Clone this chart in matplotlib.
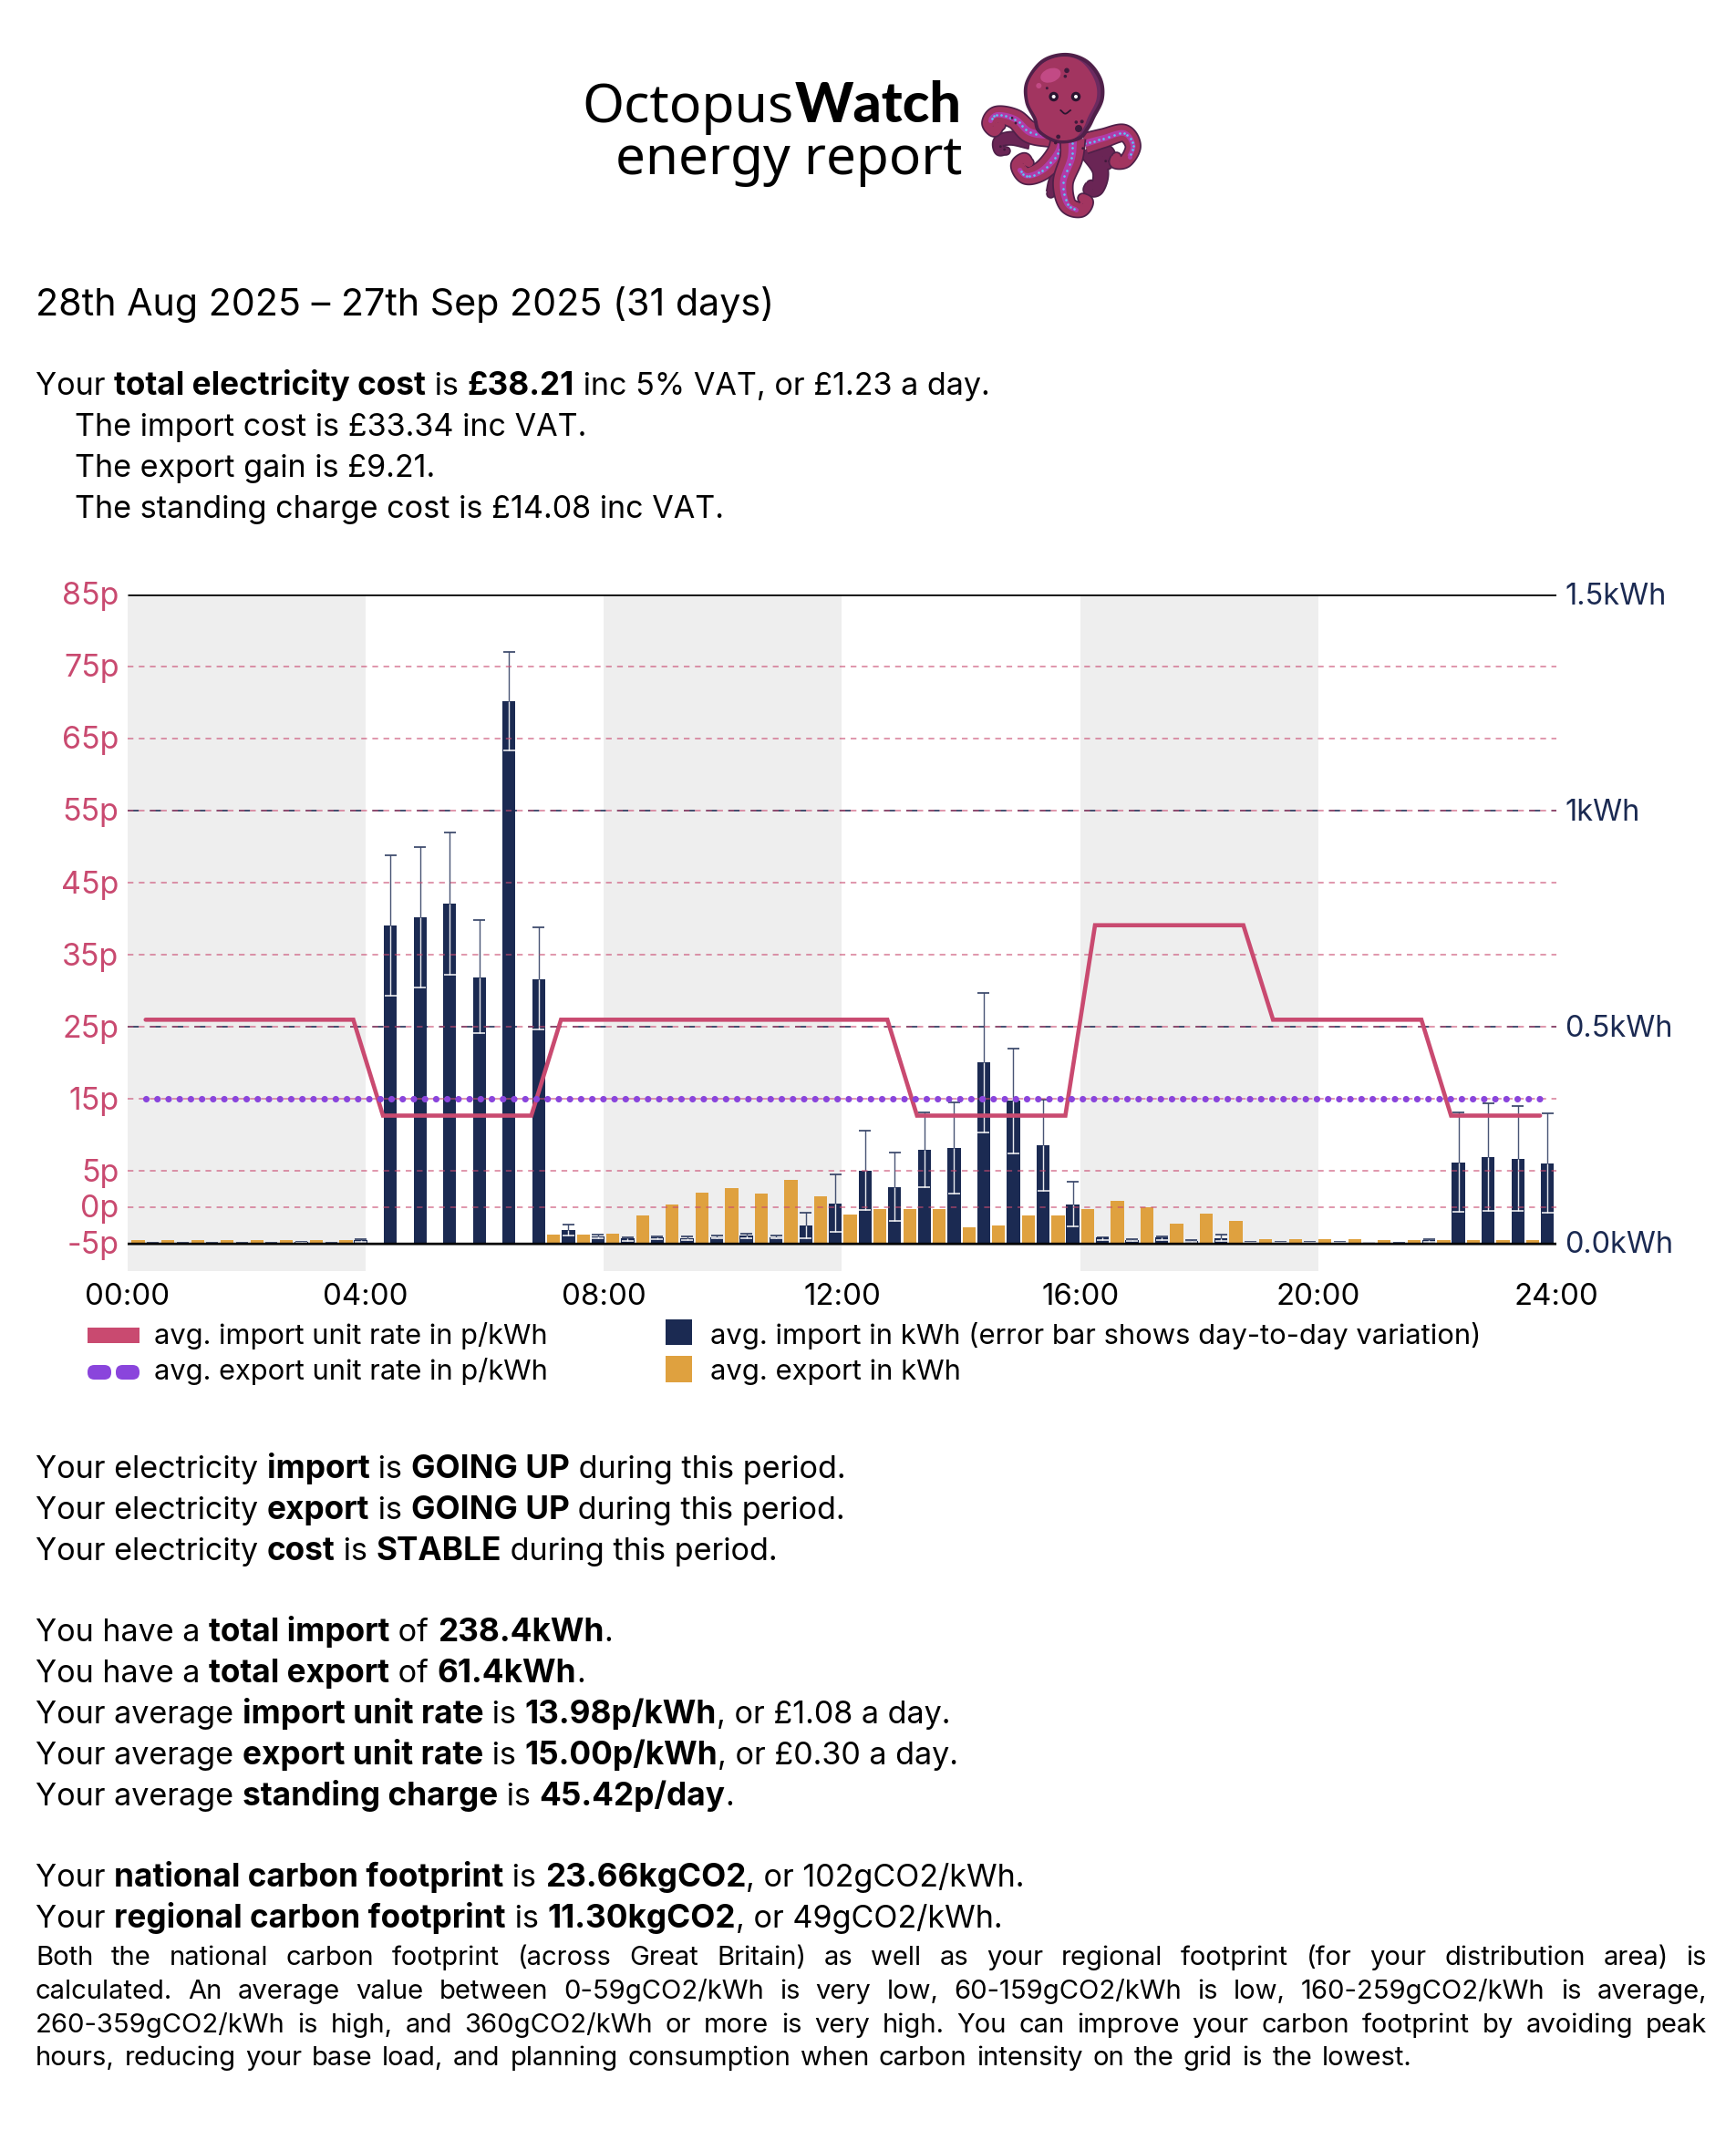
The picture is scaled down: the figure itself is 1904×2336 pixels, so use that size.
import numpy as np
import matplotlib
matplotlib.use("Agg")
import matplotlib.pyplot as plt
from matplotlib.patches import Ellipse, Polygon, Rectangle, FancyBboxPatch

plt.rcParams["lines.scale_dashes"] = False

# ---------------- data ----------------
import_kwh = [.001,.001,.001,.001,.001,.003,.001,.008,.735,.753,.784,.615,1.253,.611,.030,.016,
              .011,.013,.011,.014,.018,.014,.041,.092,.168,.130,.215,.220,.418,.329,.226,.089,
              .013,.008,.013,.006,.011,.002,.002,.002,.002,.001,.001,.008,.187,.199,.195,.185]
import_hi = [.001,.001,.001,.001,.002,.004,.002,.009,.897,.916,.949,.746,1.367,.731,.044,.019,
             .013,.015,.015,.018,.022,.018,.070,.159,.261,.209,.302,.326,.579,.450,.332,.142,
             .014,.010,.015,.008,.020,.004,.003,.003,.003,.002,.001,.009,.303,.324,.318,.301]
import_lo = [.000,.000,.000,.000,.000,.001,.000,.003,.573,.591,.621,.486,1.139,.494,.018,.012,
             .006,.009,.008,.011,.011,.011,.011,.027,.077,.051,.129,.114,.256,.207,.121,.039,
             .008,.005,.008,.004,.006,.001,.001,.001,.001,.001,.000,.004,.073,.075,.074,.070]
export_kwh = [.008,.008,.008,.008,.008,.008,.008,.008,0,0,0,0,0,0,.021,.020,
              .023,.065,.090,.116,.128,.115,.146,.109,.066,.079,.079,.078,.036,.042,.064,.065,
              .080,.098,.084,.046,.069,.051,.009,.009,.009,.009,.008,.008,.007,.007,.007,.007]
import_rate = [26]*8 + [12.7]*6 + [26]*12 + [12.7]*6 + [39.1]*6 + [26]*6 + [12.7]*4
export_rate = [15.0]*48
pence_ticks = [85,75,65,55,45,35,25,15,5,0,-5]
kwh_ticks = [1.5,1.0,0.5,0.0]
kwh_labels = ["1.5kWh","1kWh","0.5kWh","0.0kWh"]
hour_ticks = [0,4,8,12,16,20,24]
hour_labels = ["00:00","04:00","08:00","12:00","16:00","20:00","24:00"]
shaded_hours = [(0,4),(8,12),(16,20)]
legend_left = ["avg. import unit rate in p/kWh","avg. export unit rate in p/kWh"]
legend_right = ["avg. import in kWh (error bar shows day-to-day variation)","avg. export in kWh"]

NAVY="#1b2a52"; ORANGE="#dfa13f"; RED="#c94a70"; PURPLE="#8a45dc"; GREY="#eeeeee"
FONT="Inter"
W,H=1904,2336
PX=0.72

fig=plt.figure(figsize=(W/100,H/100),dpi=100,facecolor="white")
ov=fig.add_axes([0,0,1,1],zorder=5); ov.set_xlim(0,W); ov.set_ylim(H,0); ov.axis("off"); ov.patch.set_alpha(0)

L,R,T,B=140,1707,651.7,1394
Y0=1363.5
KPX=(Y0-T)/1.5
PPX=KPX/60
HPX=(R-L)/24
axk=fig.add_axes([L/W,1-B/H,(R-L)/W,(B-T)/H],zorder=1)
axp=fig.add_axes([L/W,1-B/H,(R-L)/W,(B-T)/H],zorder=2); axp.patch.set_alpha(0)
kmin=-(B-Y0)/KPX
axk.set_ylim(kmin,1.5); axk.set_xlim(0,24)
axp.set_ylim(-5+kmin*60,85); axp.set_xlim(0,24)
for a in (axk,axp):
    for s in a.spines.values(): s.set_visible(False)
    a.tick_params(length=0)
axk.set_xticks([]); axk.set_yticks([]); axp.set_yticks([]); axp.set_xticks([])

for s,e in shaded_hours:
    axk.axvspan(s,e,color=GREY,lw=0,zorder=0)

n=len(import_kwh)
idx=np.arange(n)
step=32.54/HPX
x_group=0.302+idx*step
x_exp=x_group-0.124
x_imp=x_group+0.124
bw=14.3/HPX
for k in (1.0,0.5):
    axk.axhline(k,color=NAVY,lw=1.6*PX,dashes=(12.2*PX,12.2*PX),zorder=1)
axk.bar(x_imp,import_kwh,width=bw,color=NAVY,zorder=2)
axk.bar(x_exp,export_kwh,width=bw,color=ORANGE,zorder=2)
imp=np.array(import_kwh); hi=np.array(import_hi); lo=np.array(import_lo)
cap=6.5/HPX
axk.vlines(x_imp,imp,hi,color=NAVY,lw=1.4*PX,alpha=.8,zorder=3)
axk.hlines(hi,x_imp-cap,x_imp+cap,color=NAVY,lw=1.5*PX,zorder=3)
axk.vlines(x_imp,lo,imp,color="white",lw=1.4*PX,alpha=.9,zorder=3)
axk.hlines(lo,x_imp-cap,x_imp+cap,color="white",lw=1.5*PX,zorder=3)

for p in pence_ticks[1:-1]:
    axp.axhline(p,color=RED,lw=1.5*PX,dashes=(6.3*PX,5.9*PX),alpha=.75,zorder=1)
axp.plot([0,24],[85,85],color="black",lw=2.6*PX,zorder=2,solid_capstyle="butt")
axp.plot([0,24],[-5.2,-5.2],color="#8a8a8a",lw=1.8*PX,zorder=5,solid_capstyle="butt")
axp.plot([0,24],[-5,-5],color="black",lw=2.4*PX,zorder=6,solid_capstyle="butt")
axp.plot(x_group,import_rate,color=RED,lw=4.6*PX,solid_joinstyle="miter",solid_capstyle="round",zorder=4)
axp.plot(x_group,export_rate,color=PURPLE,lw=7.2*PX,dashes=(0.02,12.2*PX),dash_capstyle="round",zorder=5)

for p in pence_ticks:
    ov.text(130.5,Y0-(p+5)*PPX-1,f"{p}p",ha="right",va="center_baseline",fontsize=34*PX,color=RED,family=FONT)
for k,l in zip(kwh_ticks,kwh_labels):
    ov.text(1716,Y0-k*KPX-1,l,ha="left",va="center_baseline",fontsize=32.5*PX,color=NAVY,family=FONT)
for h,l in zip(hour_ticks,hour_labels):
    ov.text(L+h*HPX,1431,l,ha="center",va="baseline",fontsize=33*PX,color="black",family=FONT)

# legend
ov.add_patch(Rectangle((96,1456),57,17,color=RED,lw=0))
for x0 in (96,127):
    ov.add_patch(FancyBboxPatch((x0,1497),26,16,boxstyle="round,pad=0,rounding_size=7.5",color=PURPLE,lw=0))
ov.add_patch(Rectangle((730,1447),29,28,color=NAVY,lw=0))
ov.add_patch(Rectangle((730,1487),29,29,color=ORANGE,lw=0))
for y,a,b in zip((1474,1513),legend_left,legend_right):
    ov.text(169,y,a,fontsize=30.8*PX,family=FONT,va="baseline")
    ov.text(779,y,b,fontsize=31*PX,family=FONT,va="baseline")

# text helpers
rend=fig.canvas.get_renderer()
def width(s,size,weight):
    t=ov.text(0,0,s+"|",fontsize=size*PX,family=FONT,fontweight=weight)
    w=t.get_window_extent(rend).width; t.set_text("|")
    w-=t.get_window_extent(rend).width; t.remove()
    return w
def rich(x,y,parts,size=34.1,bsize=35.2):
    for s,b in parts:
        wt="bold" if b else "normal"
        sz=bsize if b else size
        ov.text(x,y,s,fontsize=sz*PX,family=FONT,fontweight=wt,va="baseline",color="black")
        x+=width(s,sz,wt)
def P(s):
    parts=s.split("*")
    return [(p,i%2==1) for i,p in enumerate(parts) if p]

rich(39,346,P("28th Aug 2025 \u2013 27th Sep 2025 (31 days)"),size=41.2)
for y,x,s in [(433,39,"Your *total electricity cost* is *£38.21* inc 5% VAT, or £1.23 a day."),
            (478,82,"The import cost is £33.34 inc VAT."),
            (523,82,"The export gain is £9.21."),
            (568,82,"The standing charge cost is £14.08 inc VAT."),
            (1621,39,"Your electricity *import* is *GOING UP* during this period."),
            (1666,39,"Your electricity *export* is *GOING UP* during this period."),
            (1711,39,"Your electricity *cost* is *STABLE* during this period."),
            (1800,39,"You have a *total import* of *238.4kWh*."),
            (1845,39,"You have a *total export* of *61.4kWh*."),
            (1890,39,"Your average *import unit rate* is *13.98p/kWh*, or £1.08 a day."),
            (1935,39,"Your average *export unit rate* is *15.00p/kWh*, or £0.30 a day."),
            (1980,39,"Your average *standing charge* is *45.42p/day*."),
            (2069,39,"Your *national carbon footprint* is *23.66kgCO2*, or 102gCO2/kWh."),
            (2114,39,"Your *regional carbon footprint* is *11.30kgCO2*, or 49gCO2/kWh.")]:
    rich(x,y,P(s))

para=["Both the national carbon footprint (across Great Britain) as well as your regional footprint (for your distribution area) is",
"calculated. An average value between 0-59gCO2/kWh is very low, 60-159gCO2/kWh is low, 160-259gCO2/kWh is average,",
"260-359gCO2/kWh is high, and 360gCO2/kWh or more is very high. You can improve your carbon footprint by avoiding peak",
"hours, reducing your base load, and planning consumption when carbon intensity on the grid is the lowest."]
size=29.2
for i,(y,line) in enumerate(zip((2155,2192,2229,2265),para)):
    words=line.split(" ")
    ws=[width(w,size,"normal") for w in words]
    if i<3:
        gap=(1872-39-sum(ws))/(len(words)-1)
    else:
        gap=width(" ",size,"normal")+2.4
    x=39
    for w,wd in zip(words,ws):
        ov.text(x,y,w,fontsize=size*PX,family=FONT,va="baseline")
        x+=wd+gap

# logo text
ov.text(1055,134,"Watch",ha="right",va="baseline",fontsize=61*PX,family="Lato",fontweight="black")
ov.text(871,134,"Octopus",ha="right",va="baseline",fontsize=59*PX,family="Noto Sans",fontweight="light")
ov.text(1055,191,"energy report",ha="right",va="baseline",fontsize=58.4*PX,family="Noto Sans",fontweight="light")

# octopus illustration (decorative)
def z(p):
    p=np.asarray(p,float)
    return np.c_[1060+p[:,0]/3,40+p[:,1]/3]
def spline(pts,n=24,closed=False):
    pts=np.asarray(pts,float)
    if closed:
        q=np.vstack([pts[-1],pts,pts[0],pts[1]])
    else:
        q=np.vstack([2*pts[0]-pts[1],pts,2*pts[-1]-pts[-2]])
    out=[]
    for i in range(1,len(q)-2):
        t=np.linspace(0,1,n,endpoint=False)[:,None]
        a,b,c,d=q[i-1],q[i],q[i+1],q[i+2]
        out.append(.5*((2*b)+(c-a)*t+(2*a-5*b+4*c-d)*t**2+(3*b-a-3*c+d)*t**3))
    if not closed:
        out.append(pts[-1:])
    return np.vstack(out)
def ribbon(c,w0,w1,color,zo):
    d=np.gradient(c,axis=0); d/=np.maximum(np.hypot(d[:,0],d[:,1]),1e-6)[:,None]
    nrm=np.c_[-d[:,1],d[:,0]]
    w=np.linspace(w0,w1,len(c))[:,None]/2
    poly=np.vstack([c+nrm*w,(c-nrm*w)[::-1]])
    ov.add_patch(Polygon(poly,closed=True,color=color,lw=0,zorder=zo))
    ov.scatter([c[-1,0]],[c[-1,1]],s=(w1*.72)**2,color=color,lw=0,zorder=zo)
DARK="#4f2049"; MID="#a23560"; BACK="#6a2555"; STR="#b23ba8"; CY="#5bc8f5"
def tentacle(pts,w0,w1,zo,fill=MID,stripe=True,frac=.62):
    c=spline(z(pts))
    ribbon(c,w0+3.5,w1+3.5,DARK,zo)
    ribbon(c,w0,w1,fill,zo+.1)
    if stripe:
        m=int(len(c)*frac)
        ribbon(c[:m],w0*.36,w1*.55,STR,zo+.2)
        dots=c[:m][::6]
        ov.scatter(dots[:,0],dots[:,1],s=3.5,color=CY,lw=0,zorder=zo+.3)
tentacle([(340,420),(295,470),(275,515)],18,7,5,BACK,False)
tentacle([(420,365),(465,385),(462,420),(440,405)],17,7,5,BACK,False)
tentacle([(210,345),(150,335),(108,345),(108,375),(130,375)],15,7,5,BACK,False)
tentacle([(395,370),(440,440),(430,500),(403,505),(408,485)],18,8,5,BACK,False)
tentacle([(285,325),(210,315),(160,272),(100,258),(75,285),(92,310),(110,292)],25,9,7)
tentacle([(390,352),(450,335),(518,318),(548,360),(525,408),(490,415),(492,395)],21,9,7)
tentacle([(320,330),(300,385),(250,440),(197,458),(170,425),(190,403),(205,415)],25,9,8)
tentacle([(350,335),(345,400),(318,480),(332,552),(375,570),(397,545),(380,530)],26,9,9)
# head
headp=[(325,60),(395,82),(440,140),(446,205),(418,265),(400,300),(370,335),(300,345),(240,312),(225,270),(199,215),(200,150),(250,82)]
ov.add_patch(Polygon(spline(z(headp),closed=True),closed=True,fc="#6b2a60",ec=DARK,lw=3,zorder=10))
innerp=[(320,66),(380,85),(422,145),(428,205),(400,265),(385,300),(355,335),(300,340),(245,310),(230,268),(204,215),(205,150),(252,88)]
ov.add_patch(Polygon(spline(z(innerp),closed=True),closed=True,fc=MID,lw=0,zorder=11))
hl=z([(277,128),(238,162)])
ov.add_patch(Ellipse(hl[0],23,15,angle=-20,color="#c24a85",lw=0,zorder=12))
ov.add_patch(Ellipse(hl[1],6,6,color="#c24a85",lw=0,zorder=12))
for (a,b,r) in [(330,112,2.8),(325,131,1.8),(265,170,1.5),(369,303,4),(361,282,1.8),(380,280,2),(302,330,2.4),(293,350,1.7)]:
    ov.add_patch(Ellipse(z([(a,b)])[0],2*r,2*r,color="#3f1a3c",lw=0,zorder=12))
for (a,b,r,zo) in [(150,268,1.4,8),(162,285,1.4,8),(383,368,1.4,10),(112,362,1.4,6),(125,372,1.4,6),(458,410,1.4,6),(470,410,1.4,6)]:
    ov.add_patch(Ellipse(z([(a,b)])[0],2*r,2*r,color="#3f1a3c",lw=0,zorder=zo))
for a in (287,360):
    e=z([(a,198)])[0]
    ov.add_patch(Ellipse(e,10.5,10.5,color="#2a1530",lw=0,zorder=12))
    ov.add_patch(Ellipse(e,4,4,color="white",lw=0,zorder=13))
sm=spline(z([(310,243),(325,254),(342,243)]))
ov.plot(sm[:,0],sm[:,1],color="#2a1530",lw=1.3,zorder=12)
ov.set_xlim(0,W); ov.set_ylim(H,0)

fig.savefig("out.png",dpi=100)
